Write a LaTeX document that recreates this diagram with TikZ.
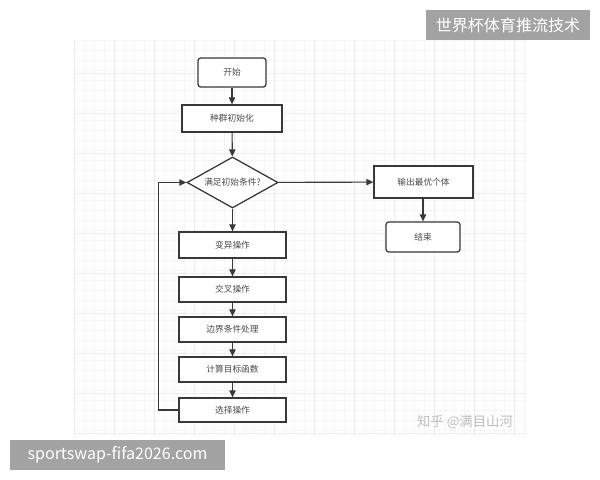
\documentclass[tikz,border=0pt]{standalone}
\usepackage{fontspec}
\setmainfont{Noto Sans CJK SC}
\usepackage{tikz}
\usetikzlibrary{positioning, arrows.meta, shapes.geometric}
\definecolor{fInk}{HTML}{383838}
\definecolor{fText}{HTML}{4A4A4A}
\definecolor{gMinor}{HTML}{F5F5F5}
\definecolor{gMajor}{HTML}{ECECEC}
\definecolor{wmFill}{HTML}{A3A3A3}
\definecolor{wmText}{HTML}{BDBDBD}
\tikzset{
  stepbox/.style={draw=fInk, line width=0.9pt, fill=white, text=fText,
    minimum width=2.675cm, minimum height=0.65cm, inner sep=1pt,
    font=\fontsize{6.2}{7}\selectfont, align=center},
  termbox/.style={stepbox, rounded corners=2pt},
  decbox/.style={stepbox, diamond, aspect=1.8, inner sep=0pt,
    minimum width=2.275cm, minimum height=1.275cm},
  flow/.style={-{Triangle[length=5pt, width=4.5pt]}, line width=0.8pt, fInk},
  gridminor/.style={gMinor, line width=0.4pt},
  gridmajor/.style={gMajor, line width=0.5pt},
  wmark/.style={fill=wmFill, text=white, inner sep=0pt, font=\fontsize{11.4}{13}\selectfont},
}
\begin{document}
\begin{tikzpicture}[x=0.025cm, y=-0.025cm]
  \useasboundingbox[fill=white] (0,0) rectangle (600,480);
  % grid paper
  \foreach \gx in {74,84,...,526} \draw[gridminor] (\gx,40) -- (\gx,437);
  \foreach \gy in {40,50,...,437} \draw[gridminor] (74,\gy) -- (526,\gy);
  \foreach \gx in {74,114,...,526} \draw[gridmajor] (\gx,40) -- (\gx,437);
  \foreach \gy in {73,113,...,437} \draw[gridmajor] (74,\gy) -- (526,\gy);

  % flow chart
  \node[termbox, minimum width=1.7cm, minimum height=0.725cm] (start) at (232,72.5) {开始};
  \node[stepbox, minimum width=2.5cm, minimum height=0.675cm] (init) at (232,118.5) {种群初始化};
  \node[decbox] (cond) at (232.5,182.5) {满足初始条件?};
  \node[stepbox, minimum width=2.475cm, minimum height=0.8cm] (best) at (423.5,182) {输出最优个体};
  \node[termbox, minimum width=1.85cm, minimum height=0.75cm] (stop) at (423,237) {结束};
  \node[stepbox] (mut) at (232.5,245) {变异操作};
  \node[stepbox, minimum height=0.625cm] (cross) at (232.5,289.5) {交叉操作};
  \node[stepbox, minimum height=0.625cm] (bound) at (232.5,329.5) {边界条件处理};
  \node[stepbox, minimum height=0.625cm] (fit) at (232.5,369.5) {计算目标函数};
  \node[stepbox, minimum height=0.6cm] (sel) at (232.5,410) {选择操作};

  \draw[flow] (start) -- (init);
  \draw[flow] (init) -- (cond);
  \draw[flow] (cond) -- (best);
  \draw[flow] (best.south -| stop) -- (stop);
  \draw[flow] (cond) -- (mut);
  \draw[flow] (mut) -- (cross);
  \draw[flow] (cross) -- (bound);
  \draw[flow] (bound) -- (fit);
  \draw[flow] (fit) -- (sel);
  \draw[flow] (sel.west) -- ++(-20,0) |- (cond.west);

  % watermarks
  \node[text=wmText, font=\fontsize{9.5}{11}\selectfont] (zhihu) at (465,422) {知乎 @满目山河};
  \node[wmark, minimum width=4.1cm, minimum height=0.75cm] (wmtop) at (508,25) {世界杯体育推流技术};
  \node[wmark, minimum width=5.375cm, minimum height=0.75cm] (wmbot) at (117.5,455) {sportswap-fifa2026.com};
\end{tikzpicture}
\end{document}
